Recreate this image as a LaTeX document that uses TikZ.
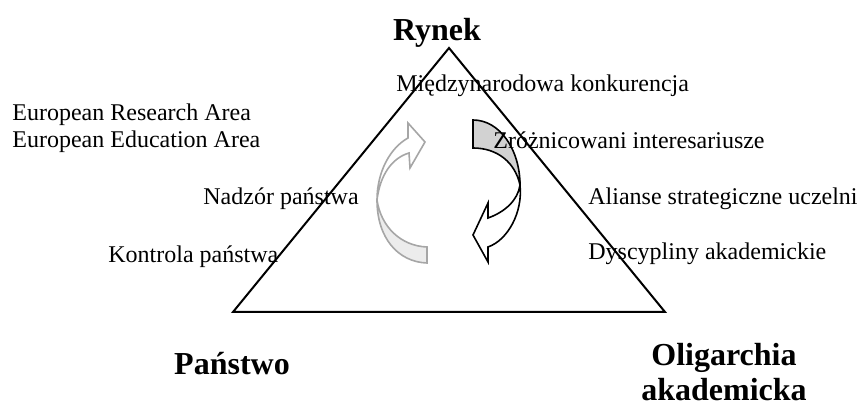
\documentclass[tikz,border=0pt]{standalone}
\usepackage{fontspec}
\setmainfont{Liberation Serif}
\begin{document}
\begin{tikzpicture}[x=0.5pt, y=-0.5pt,
        txt/.style={anchor=base west, inner sep=0pt, font=\fontsize{12}{14}\selectfont},
        pole/.style={inner sep=0pt, align=center, font=\fontsize{16}{17.5}\selectfont\bfseries}]
    \useasboundingbox (0, 0) rectangle (858, 405);

    % Strzalka szara
    \filldraw[draw=gray!70, fill=gray!15, line width=0.8pt]
        (427, 263) .. controls (398, 262) and (377, 238) .. (377, 200)
        .. controls (381, 227) and (401, 246) .. (427, 247) -- cycle;
    \filldraw[draw=gray!70, fill=white, line width=0.8pt]
        (377, 200) .. controls (377, 172) and (390, 148) .. (408, 138)
        -- (408, 123) -- (425, 142) -- (410, 168) -- (409, 153)
        .. controls (392, 158) and (380, 175) .. (377, 200) -- cycle;

    % Strzalka czarna
    \filldraw[fill=gray!35, line width=0.8pt]
        (473, 120) .. controls (500, 120) and (520, 150) .. (520, 185)
        .. controls (515, 162) and (497, 148) .. (473, 148) -- cycle;
    \filldraw[fill=white, line width=0.8pt]
        (520, 185) .. controls (523, 212) and (508, 240) .. (488, 247)
        -- (488, 262) -- (473, 235) -- (488, 203) -- (488, 218)
        .. controls (505, 212) and (518, 200) .. (520, 185) -- cycle;

    % Trojkat
    \coordinate (rynekV) at (449, 48);
    \coordinate (panstwoV) at (233, 312);
    \coordinate (oligarchiaV) at (665, 312);
    \draw[line width=1pt] (rynekV) -- (panstwoV) -- (oligarchiaV) -- cycle;

    % Wierzcholki
    \node[pole, anchor=base] (rynek) at (437, 41) {Rynek};
    \node[pole, anchor=base] (panstwo) at (232, 375) {Państwo};
    \node[pole] (oligarchia) at (724, 372) {Oligarchia\\akademicka};

    % Opisy
    \node[txt] (konkurencja) at (396, 92) {Międzynarodowa konkurencja};
    \node[txt] (era) at (12, 121) {European Research Area};
    \node[txt] (eea) at (12, 148) {European Education Area};
    \node[txt] (interesariusze) at (493, 149) {Zróżnicowani interesariusze};
    \node[txt] (nadzor) at (203, 205) {Nadzór państwa};
    \node[txt] (alianse) at (588, 205) {Alianse strategiczne uczelni};
    \node[txt] (kontrola) at (108, 263) {Kontrola państwa};
    \node[txt] (dyscypliny) at (588, 260) {Dyscypliny akademickie};
\end{tikzpicture}
\end{document}
